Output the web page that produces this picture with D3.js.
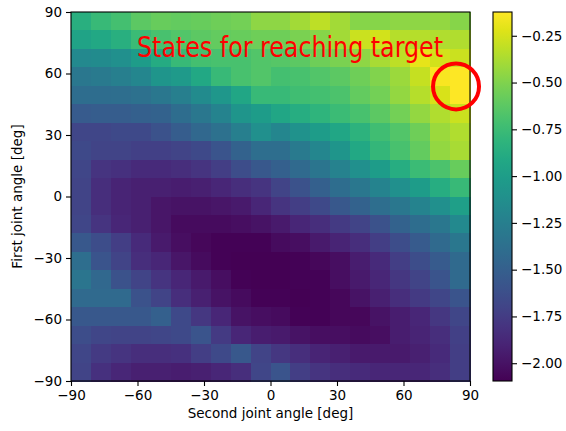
<!DOCTYPE html>
<html>
<head>
<meta charset="utf-8">
<script src="https://cdn.jsdelivr.net/npm/d3@7"></script>
<style>
  body { margin: 0; background: #fff; }
  text { font-family: "DejaVu Sans", sans-serif; }
</style>
</head>
<body>
<div id="chart"></div>
<script>
// cell centres in degrees
const secondJointDeg = [-85.5, -76.5, -67.5, -58.5, -49.5, -40.5, -31.5, -22.5, -13.5, -4.5,
                        4.5, 13.5, 22.5, 31.5, 40.5, 49.5, 58.5, 67.5, 76.5, 85.5];
const firstJointDeg = [85.5, 76.5, 67.5, 58.5, 49.5, 40.5, 31.5, 22.5, 13.5, 4.5,
                       -4.5, -13.5, -22.5, -31.5, -40.5, -49.5, -58.5, -67.5, -76.5, -85.5];
const cellDeg = 9;

// one row per first joint angle (top to bottom), one value per second joint angle
const stateValues = [
  [-0.85,-0.77,-0.71,-0.62,-0.58,-0.60,-0.58,-0.56,-0.54,-0.46,-0.46,-0.40,-0.32,-0.40,-0.48,-0.48,-0.46,-0.46,-0.44,-0.48],
  [-0.95,-0.91,-0.85,-0.75,-0.70,-0.66,-0.62,-0.60,-0.58,-0.56,-0.56,-0.52,-0.48,-0.40,-0.28,-0.26,-0.34,-0.34,-0.36,-0.36],
  [-1.17,-1.15,-1.11,-1.01,-0.89,-0.77,-0.71,-0.70,-0.70,-0.66,-0.64,-0.62,-0.56,-0.52,-0.46,-0.38,-0.32,-0.20,-0.26,-0.28],
  [-1.31,-1.29,-1.25,-1.19,-1.07,-1.03,-0.91,-0.77,-0.70,-0.66,-0.71,-0.70,-0.66,-0.62,-0.56,-0.50,-0.42,-0.30,-0.14,-0.123],
  [-1.40,-1.40,-1.39,-1.37,-1.31,-1.25,-1.15,-1.05,-0.93,-0.77,-0.77,-0.73,-0.71,-0.68,-0.60,-0.54,-0.44,-0.34,-0.24,-0.13],
  [-1.54,-1.52,-1.52,-1.50,-1.48,-1.40,-1.31,-1.21,-1.07,-1.01,-0.93,-0.87,-0.81,-0.75,-0.70,-0.62,-0.54,-0.44,-0.36,-0.28],
  [-1.68,-1.68,-1.66,-1.66,-1.60,-1.52,-1.44,-1.37,-1.25,-1.11,-1.19,-1.09,-1.01,-0.93,-0.83,-0.73,-0.66,-0.56,-0.42,-0.36],
  [-1.66,-1.70,-1.70,-1.72,-1.72,-1.70,-1.66,-1.58,-1.48,-1.39,-1.39,-1.29,-1.19,-1.07,-0.91,-0.79,-0.70,-0.60,-0.44,-0.38],
  [-1.68,-1.80,-1.82,-1.86,-1.86,-1.84,-1.80,-1.74,-1.64,-1.56,-1.50,-1.42,-1.33,-1.23,-1.11,-1.01,-0.87,-0.75,-0.68,-0.58],
  [-1.70,-1.84,-1.90,-1.92,-1.92,-1.94,-1.92,-1.88,-1.84,-1.80,-1.70,-1.60,-1.50,-1.40,-1.31,-1.21,-1.11,-1.01,-0.87,-0.77],
  [-1.70,-1.84,-1.90,-1.92,-1.98,-2.00,-2.00,-1.98,-1.96,-1.88,-1.80,-1.74,-1.66,-1.56,-1.48,-1.39,-1.31,-1.21,-1.11,-0.99],
  [-1.68,-1.80,-1.88,-1.92,-1.98,-2.04,-2.04,-2.04,-2.02,-2.00,-1.96,-1.88,-1.84,-1.76,-1.70,-1.60,-1.48,-1.40,-1.31,-1.17],
  [-1.56,-1.64,-1.74,-1.86,-1.96,-2.02,-2.06,-2.08,-2.08,-2.08,-2.04,-2.02,-1.96,-1.90,-1.84,-1.74,-1.64,-1.54,-1.42,-1.31],
  [-1.39,-1.58,-1.70,-1.84,-1.88,-1.98,-2.04,-2.08,-2.09,-2.095,-2.09,-2.08,-2.06,-2.02,-1.94,-1.86,-1.74,-1.64,-1.54,-1.42],
  [-1.33,-1.44,-1.60,-1.70,-1.80,-1.88,-1.96,-2.02,-2.08,-2.09,-2.09,-2.08,-2.08,-2.02,-1.96,-1.88,-1.78,-1.70,-1.58,-1.42],
  [-1.42,-1.42,-1.42,-1.60,-1.70,-1.84,-1.92,-2.00,-2.04,-2.08,-2.08,-2.09,-2.08,-2.06,-2.00,-1.92,-1.84,-1.76,-1.68,-1.58],
  [-1.56,-1.56,-1.56,-1.56,-1.50,-1.66,-1.78,-1.88,-2.00,-2.02,-2.04,-2.08,-2.08,-2.06,-2.06,-2.00,-1.94,-1.88,-1.78,-1.68],
  [-1.64,-1.68,-1.70,-1.70,-1.68,-1.66,-1.58,-1.76,-1.88,-1.94,-1.96,-2.00,-2.02,-2.02,-2.04,-2.02,-1.94,-1.90,-1.84,-1.72],
  [-1.68,-1.76,-1.80,-1.84,-1.84,-1.82,-1.74,-1.66,-1.56,-1.70,-1.78,-1.84,-1.90,-1.92,-1.96,-1.96,-1.96,-1.92,-1.86,-1.74],
  [-1.70,-1.82,-1.88,-1.92,-1.92,-1.94,-1.92,-1.88,-1.84,-1.68,-1.58,-1.74,-1.80,-1.84,-1.86,-1.88,-1.88,-1.88,-1.84,-1.74]
];

const xTicks = [-90, -60, -30, 0, 30, 60, 90];
const yTicks = [-90, -60, -30, 0, 30, 60, 90];
const cbTicks = [-2.00, -1.75, -1.50, -1.25, -1.00, -0.75, -0.50, -0.25];
const noteText = "States for reaching target";
const target = {second: 83.7, first: 53.7};

const W = 566, H = 431;
const plot = {left: 71, right: 470, top: 12, bottom: 381};
const cb = {left: 493, right: 512, top: 12, bottom: 381};

const svg = d3.select("#chart").append("svg")
  .attr("width", W)
  .attr("height", H);

const x = d3.scaleLinear().domain([-90, 90]).range([plot.left, plot.right]);
const y = d3.scaleLinear().domain([-90, 90]).range([plot.bottom, plot.top]);

const allVals = stateValues.flat();
const color = d3.scaleSequential(d3.interpolateViridis).domain(d3.extent(allVals));

// heatmap cells
const cells = [];
stateValues.forEach((row, i) => {
  row.forEach((v, j) => {
    cells.push({first: firstJointDeg[i], second: secondJointDeg[j], value: v});
  });
});

svg.append("g")
  .attr("shape-rendering", "crispEdges")
  .selectAll("rect")
  .data(cells)
  .enter()
  .append("rect")
    .attr("x", d => x(d.second - cellDeg / 2))
    .attr("y", d => y(d.first + cellDeg / 2))
    .attr("width", d => x(d.second + cellDeg / 2) - x(d.second - cellDeg / 2) + 0.5)
    .attr("height", d => y(d.first - cellDeg / 2) - y(d.first + cellDeg / 2) + 0.5)
    .attr("fill", d => color(d.value));

// axes
const xAxis = svg.append("g")
  .attr("transform", "translate(0," + plot.bottom + ")")
  .call(d3.axisBottom(x).tickValues(xTicks).tickSize(5).tickPadding(4).tickFormat(d3.format("d")));
xAxis.select(".domain").remove();

const yAxis = svg.append("g")
  .attr("transform", "translate(" + plot.left + ",0)")
  .call(d3.axisLeft(y).tickValues(yTicks).tickSize(5).tickPadding(4).tickFormat(d3.format("d")));
yAxis.select(".domain").remove();

svg.selectAll(".tick text")
  .attr("font-size", 13.5)
  .attr("font-family", "DejaVu Sans")
  .attr("fill", "#000");
svg.selectAll(".tick line").attr("stroke", "#000").attr("stroke-width", 1.1);

svg.append("rect")
  .attr("x", plot.left)
  .attr("y", plot.top)
  .attr("width", plot.right - plot.left)
  .attr("height", plot.bottom - plot.top)
  .attr("fill", "none")
  .attr("stroke", "#000")
  .attr("stroke-width", 1.1);

svg.append("text")
  .attr("x", (plot.left + plot.right) / 2)
  .attr("y", 418)
  .attr("text-anchor", "middle")
  .attr("font-size", 13.5)
  .text("Second joint angle [deg]");

svg.append("text")
  .attr("transform", "translate(22," + (plot.top + plot.bottom) / 2 + ") rotate(-90)")
  .attr("text-anchor", "middle")
  .attr("font-size", 13.5)
  .text("First joint angle [deg]");

// colorbar
const cbScale = d3.scaleLinear().domain(color.domain()).range([cb.bottom, cb.top]);
const grad = svg.append("defs").append("linearGradient")
  .attr("id", "cbgrad")
  .attr("x1", 0).attr("y1", 1).attr("x2", 0).attr("y2", 0);
d3.range(0, 1.0001, 0.05).forEach(t => {
  grad.append("stop").attr("offset", t).attr("stop-color", d3.interpolateViridis(t));
});
svg.append("rect")
  .attr("x", cb.left)
  .attr("y", cb.top)
  .attr("width", cb.right - cb.left)
  .attr("height", cb.bottom - cb.top)
  .attr("fill", "url(#cbgrad)")
  .attr("stroke", "#000")
  .attr("stroke-width", 1.1);

const cbAxis = svg.append("g")
  .attr("transform", "translate(" + cb.right + ",0)")
  .call(d3.axisRight(cbScale).tickValues(cbTicks).tickSize(5).tickPadding(4).tickFormat(d3.format(".2f")));
cbAxis.select(".domain").remove();
cbAxis.selectAll(".tick text")
  .attr("font-size", 13.5)
  .attr("font-family", "DejaVu Sans")
  .attr("fill", "#000");
cbAxis.selectAll(".tick line").attr("stroke", "#000").attr("stroke-width", 1.1);

// annotation
svg.append("text")
  .attr("x", 137)
  .attr("y", 57)
  .attr("font-family", "'Noto Sans', sans-serif")
  .attr("font-size", 28)
  .attr("fill", "#ff0000")
  .attr("textLength", 306)
  .attr("lengthAdjust", "spacingAndGlyphs")
  .text(noteText);

svg.append("circle")
  .attr("cx", x(target.second))
  .attr("cy", y(target.first))
  .attr("r", 23)
  .attr("fill", "none")
  .attr("stroke", "#ff0000")
  .attr("stroke-width", 4);
</script>
</body>
</html>
